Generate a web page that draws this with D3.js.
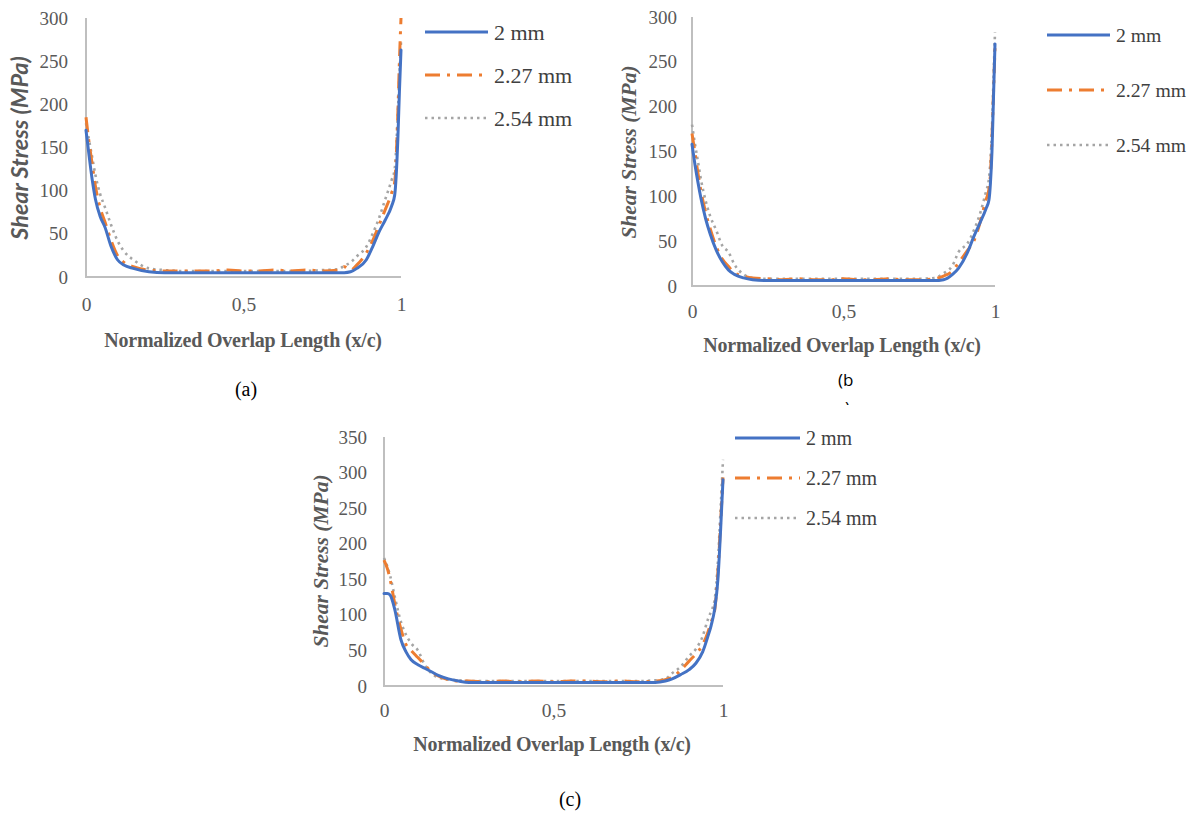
<!DOCTYPE html>
<html>
<head>
<meta charset="utf-8">
<script src="https://cdn.jsdelivr.net/npm/d3@7/dist/d3.min.js"></script>
<style>
  html, body { margin: 0; padding: 0; background: #fff; }
  svg { display: block; }
</style>
</head>
<body>
<svg id="chart" width="1195" height="818"></svg>
<script>
// ---------------- DATA ----------------
const seriesNames = ["2 mm", "2.27 mm", "2.54 mm"];
const xTickValues = [0, 0.5, 1];
const xTickLabels = ["0", "0,5", "1"];
const yTicksAB = [0, 50, 100, 150, 200, 250, 300];
const yTicksC = [0, 50, 100, 150, 200, 250, 300, 350];

// Panel (a)
const xA = [0, 0.01, 0.02, 0.03, 0.045, 0.06, 0.08, 0.1, 0.12, 0.15, 0.2, 0.25, 0.3, 0.35, 0.4, 0.45, 0.5, 0.55, 0.6, 0.65, 0.7, 0.75, 0.8, 0.82, 0.84, 0.86, 0.89, 0.91, 0.93, 0.95, 0.97, 0.98, 0.99, 0.995, 1.0];
const a_2mm   = [170, 140, 112, 90, 70, 58, 35, 20, 14, 10, 6, 5, 5, 5, 5, 5, 5, 5, 5, 5, 5, 5, 5, 5, 6, 10, 20, 35, 52, 66, 82, 95, 160, 215, 263];
const a_227mm = [185, 155, 130, 105, 80, 64, 42, 25, 17, 12, 8, 7, 7, 7, 7, 8, 7, 7, 8, 7, 8, 7, 8, 12, 8, 14, 28, 42, 60, 78, 97, 110, 190, 250, 300];
const a_254mm = [178, 158, 138, 118, 96, 81, 60, 42, 30, 20, 10, 8, 7, 7, 7, 7, 7, 7, 7, 7, 7, 8, 9, 13, 17, 24, 35, 50, 68, 90, 112, 125, 190, 235, 272];

// Panel (b)
const xB = [0, 0.01, 0.02, 0.03, 0.045, 0.06, 0.08, 0.1, 0.12, 0.14, 0.17, 0.2, 0.25, 0.3, 0.35, 0.4, 0.45, 0.5, 0.55, 0.6, 0.65, 0.7, 0.75, 0.8, 0.83, 0.86, 0.88, 0.91, 0.93, 0.95, 0.97, 0.98, 0.985, 0.99, 0.995, 1.0];
const b_2mm   = [158, 135, 115, 97, 75, 58, 40, 27, 18, 13, 9, 7, 6, 6, 6, 6, 6, 6, 6, 6, 6, 6, 6, 6, 7, 13, 20, 38, 55, 70, 86, 96, 115, 150, 210, 270];
const b_227mm = [170, 148, 125, 105, 82, 64, 44, 30, 22, 15, 11, 9, 8, 7, 8, 7, 7, 8, 7, 7, 8, 7, 7, 8, 11, 17, 26, 40, 50, 70, 96, 108, 125, 165, 215, 266];
const b_254mm = [180, 158, 138, 118, 95, 78, 62, 45, 38, 24, 13, 9, 8, 8, 8, 8, 8, 8, 8, 8, 8, 8, 8, 9, 14, 23, 38, 48, 62, 80, 105, 120, 140, 175, 230, 283];

// Panel (c)
const xC = [0, 0.01, 0.018, 0.032, 0.05, 0.065, 0.08, 0.1, 0.12, 0.14, 0.16, 0.19, 0.22, 0.25, 0.3, 0.35, 0.4, 0.45, 0.5, 0.55, 0.6, 0.65, 0.7, 0.75, 0.8, 0.83, 0.85, 0.875, 0.9, 0.92, 0.94, 0.955, 0.965, 0.975, 0.985, 0.993, 1.0];
const c_2mm   = [130, 130, 128, 107, 65, 48, 37, 30, 25, 20, 15, 10, 7, 5, 5, 5, 5, 5, 5, 5, 5, 5, 5, 5, 5, 7, 10, 16, 23, 32, 48, 69, 85, 107, 150, 220, 290];
const c_227mm = [177, 165, 150, 115, 80, 58, 50, 40, 30, 20, 14, 9, 7, 7, 6, 7, 6, 7, 6, 7, 7, 6, 7, 6, 7, 9, 12, 22, 35, 45, 58, 75, 90, 105, 160, 230, 293];
const c_254mm = [180, 168, 155, 125, 90, 72, 60, 50, 30, 18, 12, 9, 8, 7, 7, 7, 7, 7, 7, 7, 7, 7, 7, 7, 8, 10, 18, 27, 42, 52, 70, 93, 105, 120, 175, 250, 318];

// ---------------- STYLE ----------------
const colors = ["#4472C4", "#ED7D31", "#A5A5A5"];
const dashes = [null, "15,7,3,7", "2.5,4"];
const widths = [3, 3, 2.6];
const serif = "'Liberation Serif', 'Times New Roman', serif";
const textGray = "#595959";

const svg = d3.select("#chart");
svg.append("rect").attr("width", 1195).attr("height", 818).attr("fill", "#fff");

function drawPanel(p) {
  const g = svg.append("g");
  const x = d3.scaleLinear().domain([0, 1]).range([p.left, p.right]);
  const y = d3.scaleLinear().domain([0, p.yMax]).range([p.bottom, p.top]);

  // axes lines
  g.append("line").attr("x1", p.left).attr("x2", p.left).attr("y1", p.bottom + 1).attr("y2", p.top)
    .attr("stroke", "#BFBFBF").attr("stroke-width", 2);
  g.append("line").attr("x1", p.left - 1).attr("x2", p.right).attr("y1", p.bottom).attr("y2", p.bottom)
    .attr("stroke", "#BFBFBF").attr("stroke-width", 2);

  // y tick labels
  const yAxis = d3.axisLeft(y).tickValues(p.yTicks).tickSize(0).tickPadding(p.yPad);
  const ya = g.append("g").attr("transform", `translate(${p.left},0)`).call(yAxis);
  ya.select(".domain").remove();
  ya.selectAll("text").attr("font-family", serif).attr("font-size", 19).attr("fill", textGray);

  // x tick labels
  const xAxis = d3.axisBottom(x).tickValues(xTickValues).tickFormat((d, i) => xTickLabels[i]).tickSize(0).tickPadding(p.xPad);
  const xa = g.append("g").attr("transform", `translate(0,${p.bottom})`).call(xAxis);
  xa.select(".domain").remove();
  xa.selectAll("text").attr("font-family", serif).attr("font-size", 19.5).attr("fill", textGray);

  // series
  const line = d3.line().x(d => x(d[0])).y(d => y(d[1])).curve(d3.curveMonotoneX);
  [2, 1, 0].forEach(i => {
    const pts = p.xs.map((xv, k) => [xv, p.series[i][k]]);
    const path = g.append("path").datum(pts).attr("d", line)
      .attr("fill", "none").attr("stroke", colors[i]).attr("stroke-width", widths[i])
      .attr("stroke-linejoin", "round");
    if (dashes[i]) path.attr("stroke-dasharray", dashes[i]);
    else path.attr("stroke-linecap", "round");
  });

  // y title
  g.append("text")
    .attr("transform", `translate(${p.yTitleX},${p.yTitleY}) rotate(-90)`)
    .attr("text-anchor", "middle").attr("dy", "0.35em")
    .attr("font-family", p.yTitleFont).attr("font-size", p.yTitleSize)
    .attr("font-weight", "bold").attr("font-style", "italic").attr("fill", textGray)
    .text("Shear Stress (MPa)");

  // x title
  g.append("text").attr("x", p.xTitleX).attr("y", p.xTitleY).attr("text-anchor", "middle")
    .attr("font-family", serif).attr("font-size", 20).attr("font-weight", "bold").attr("fill", textGray)
    .attr("letter-spacing", "-0.2")
    .text("Normalized Overlap Length (x/c)");

  // legend
  seriesNames.forEach((name, i) => {
    const ly = p.legY[i];
    const l = g.append("line").attr("x1", p.legX1).attr("x2", p.legX2).attr("y1", ly).attr("y2", ly)
      .attr("stroke", colors[i]).attr("stroke-width", widths[i]);
    if (dashes[i]) l.attr("stroke-dasharray", dashes[i]);
    g.append("text").attr("x", p.legX2 + 6).attr("y", ly).attr("dy", "0.35em")
      .attr("font-family", serif).attr("font-size", p.legSize).attr("fill", "#404040")
      .text(name);
  });
}

drawPanel({
  left: 86, right: 401, top: 18, bottom: 277, yMax: 300, yTicks: yTicksAB, yPad: 18, xPad: 20,
  xs: xA, series: [a_2mm, a_227mm, a_254mm],
  yTitleX: 20, yTitleY: 148, yTitleFont: "Lato, 'Open Sans', sans-serif", yTitleSize: 23.5,
  xTitleX: 243, xTitleY: 347,
  legX1: 425, legX2: 488, legY: [32, 75, 118], legSize: 22
});
drawPanel({
  left: 692, right: 995, top: 17, bottom: 286, yMax: 300, yTicks: yTicksAB, yPad: 15, xPad: 18,
  xs: xB, series: [b_2mm, b_227mm, b_254mm],
  yTitleX: 628, yTitleY: 152, yTitleFont: serif, yTitleSize: 21.5,
  xTitleX: 842, xTitleY: 352,
  legX1: 1047, legX2: 1110, legY: [35, 90, 145], legSize: 19.7
});
drawPanel({
  left: 384, right: 723, top: 437, bottom: 686, yMax: 350, yTicks: yTicksC, yPad: 17, xPad: 17,
  xs: xC, series: [c_2mm, c_227mm, c_254mm],
  yTitleX: 320, yTitleY: 561, yTitleFont: serif, yTitleSize: 21.5,
  xTitleX: 552, xTitleY: 751,
  legX1: 735, legX2: 800, legY: [438, 478, 518], legSize: 20
});

// captions
svg.append("text").attr("x", 246).attr("y", 396).attr("text-anchor", "middle")
  .attr("font-family", serif).attr("font-size", 20).attr("fill", "#000").text("(a)");
svg.append("text").attr("x", 838).attr("y", 386)
  .attr("font-family", "'Open Sans', 'Noto Sans', sans-serif").attr("font-size", 17).attr("fill", "#000").text("(b");
svg.append("clipPath").attr("id", "capclip").append("rect").attr("x", 830).attr("y", 390).attr("width", 40).attr("height", 15);
svg.append("text").attr("x", 845).attr("y", 414).attr("clip-path", "url(#capclip)")
  .attr("font-family", "'Open Sans', 'Noto Sans', sans-serif").attr("font-size", 17).attr("fill", "#000").text(")");
svg.append("text").attr("x", 570).attr("y", 806).attr("text-anchor", "middle")
  .attr("font-family", serif).attr("font-size", 20).attr("fill", "#000").text("(c)");
</script>
</body>
</html>
